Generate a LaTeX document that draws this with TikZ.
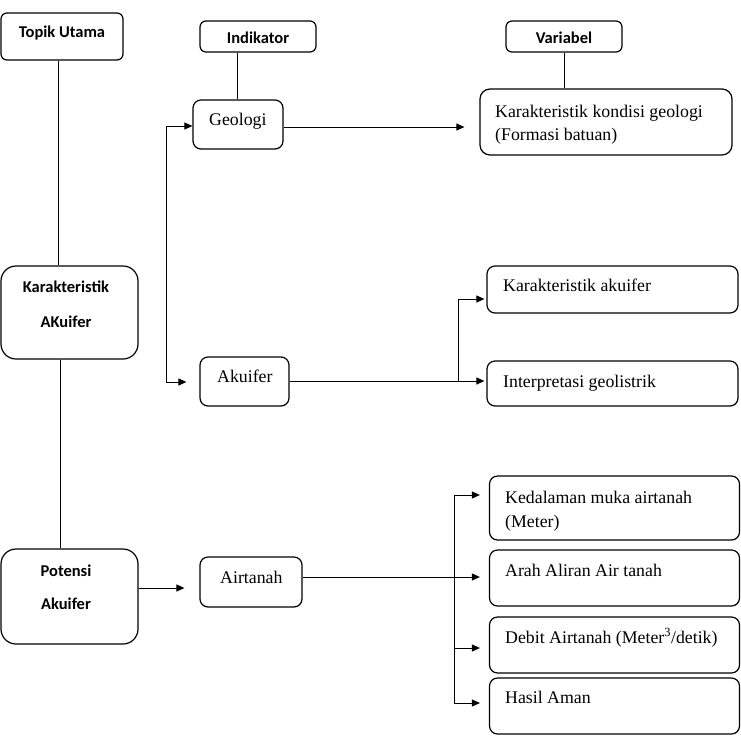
\documentclass[tikz,border=0pt]{standalone}
\usepackage{fontspec}
\setmainfont{Liberation Serif}
\newfontfamily\hdfont{Carlito}
\usetikzlibrary{arrows.meta}
\begin{document}
\begin{tikzpicture}[x=1pt,y=-1pt,
  box/.style={draw, line width=1.2pt, rounded corners=#1, inner sep=0pt},
  box/.default=8pt,
  hd/.style={font=\hdfont\bfseries\fontsize{16.5}{20}\selectfont, anchor=base, inner sep=0pt},
  tx/.style={font=\fontsize{17.8}{22}\selectfont, anchor=base west, inner sep=0pt},
  ln/.style={line width=1pt},
  arr/.style={line width=1pt, -{Triangle[length=8pt,width=7pt]}}]
\useasboundingbox (0,0) rectangle (741,737);
% boxes
\node[box=6pt, minimum width=122pt, minimum height=47pt] (topik) at (62,36.5) {};
\node[box=6pt, minimum width=116pt, minimum height=31pt] (indikator) at (258,36.5) {};
\node[box=6pt, minimum width=116pt, minimum height=31pt] (variabel) at (564,36.5) {};
\node[box, minimum width=90pt, minimum height=49pt] (geologi) at (238,124.5) {};
\node[box=10pt, minimum width=252pt, minimum height=66pt] (kkg) at (606,122) {};
\node[box=15pt, minimum width=137pt, minimum height=93pt] (karak) at (69.5,312.5) {};
\node[box, minimum width=89pt, minimum height=49pt] (akuifer) at (244.5,381.5) {};
\node[box, minimum width=251pt, minimum height=47pt] (kaku) at (612.5,289.5) {};
\node[box, minimum width=251pt, minimum height=45pt] (interp) at (612.5,383.5) {};
\node[box=15pt, minimum width=137pt, minimum height=95pt] (potensi) at (69.5,596.5) {};
\node[box, minimum width=102pt, minimum height=50pt] (airtanah) at (251,582) {};
\node[box, minimum width=250pt, minimum height=64pt] (kedal) at (614.5,508) {};
\node[box, minimum width=250pt, minimum height=56pt] (arah) at (614.5,578) {};
\node[box, minimum width=250pt, minimum height=56pt] (debit) at (614.5,645) {};
\node[box, minimum width=250pt, minimum height=56pt] (hasil) at (614.5,706) {};
% texts
\node[hd] (t1) at (62,37) {Topik Utama};
\node[hd] (t2) at (258,43) {Indikator};
\node[hd] (t3) at (564,43) {Variabel};
\node[hd] (t4) at (66,292) {Karakteristik};
\node[hd] (t5) at (66,327) {AKuifer};
\node[hd] (t6) at (66,576) {Potensi};
\node[hd] (t7) at (66,609) {Akuifer};
\node[tx] (t8) at (209,125) {Geologi};
\node[tx] (t9) at (495,117) {Karakteristik kondisi geologi};
\node[tx] (t10) at (495,140) {(Formasi batuan)};
\node[tx] (t11) at (217,382) {Akuifer};
\node[tx] (t12) at (503,291) {Karakteristik akuifer};
\node[tx] (t13) at (503,387) {Interpretasi geolistrik};
\node[tx] (t14) at (220,583) {Airtanah};
\node[tx] (t15) at (505,503) {Kedalaman muka airtanah};
\node[tx] (t16) at (505,527) {(Meter)};
\node[tx] (t17) at (505,576) {Arah Aliran Air tanah};
\node[tx] (t18) at (505,643) {Debit Airtanah (Meter\textsuperscript{3}/detik)};
\node[tx] (t19) at (505,703) {Hasil Aman};
% helper coordinates
\coordinate (c1) at (58,0);
\coordinate (c2) at (60,0);
\coordinate (c3) at (237,0);
\coordinate (g1) at (0,127);
\coordinate (b1) at (166,126);
\coordinate (b2) at (166,382);
\coordinate (j1) at (458,381);
\coordinate (j1t) at (458,299);
\coordinate (p1) at (0,588);
\coordinate (j2a) at (454,495);
\coordinate (j2b) at (454,577);
\coordinate (j2c) at (454,648);
\coordinate (j2d) at (454,703);
% connectors
\draw[ln] (topik.south -| c1) -- (karak.north -| c1);
\draw[ln] (karak.south -| c2) -- (potensi.north -| c2);
\draw[ln] (indikator.south -| c3) -- (geologi.north -| c3);
\draw[ln] (variabel.south) -- (variabel.south |- kkg.north);
\draw[arr, shorten >=15pt] (geologi.east |- g1) -- (kkg.west |- g1);
\draw[arr] (b2) -- (b1) -- (geologi.west |- b1);
\draw[arr, shorten >=13pt] (b2) -- (akuifer.west |- b2);
\draw[ln] (akuifer.east |- j1) -- (j1);
\draw[arr, shorten >=2pt] (j1) -- (j1t) -- (kaku.west |- j1t);
\draw[arr, shorten >=2pt] (j1) -- (interp.west |- j1);
\draw[arr, shorten >=15pt] (potensi.east |- p1) -- (airtanah.west |- p1);
\draw[ln] (airtanah.east |- j2b) -- (j2b);
\draw[ln] (j2a) -- (j2d);
\draw[arr, shorten >=9pt] (j2a) -- (kedal.west |- j2a);
\draw[arr, shorten >=9pt] (j2b) -- (arah.west |- j2b);
\draw[arr, shorten >=9pt] (j2c) -- (debit.west |- j2c);
\draw[arr, shorten >=9pt] (j2d) -- (hasil.west |- j2d);
\end{tikzpicture}
\end{document}
